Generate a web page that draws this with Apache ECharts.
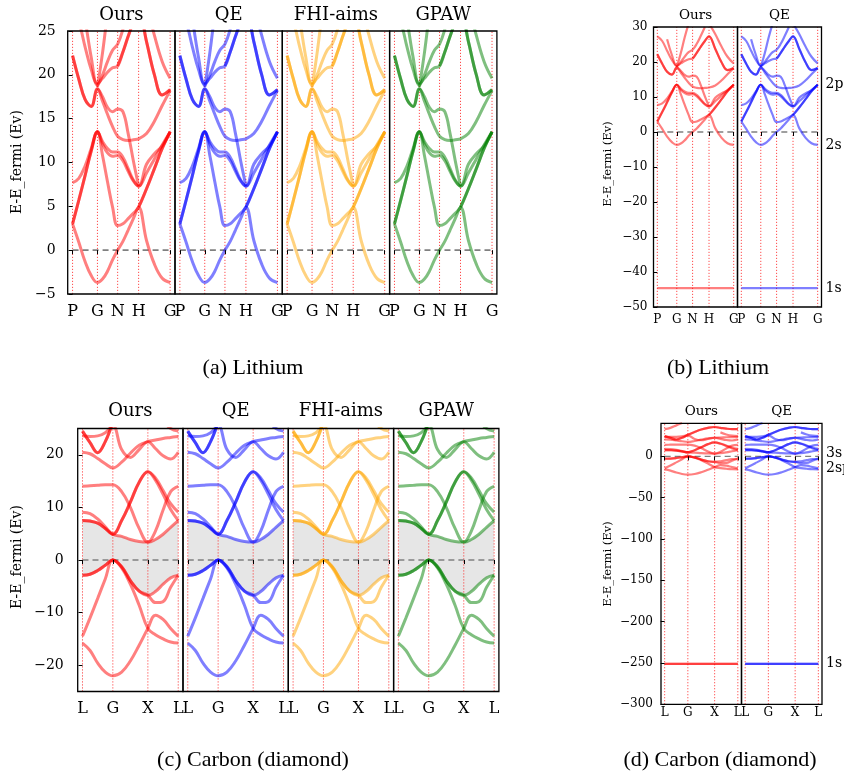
<!DOCTYPE html>
<html><head><meta charset="utf-8">
<script src="https://cdn.jsdelivr.net/npm/echarts@6/dist/echarts.min.js"></script>
<style>html,body{margin:0;padding:0;background:#fff}#c{width:844px;height:774px}</style>
</head><body><div id="c"></div>
<script>
// ---------- Lithium (BCC) path P-G-N-H-G ----------
const liK = [0, 0.064, 0.128, 0.191, 0.255, 0.307, 0.358, 0.41, 0.462, 0.516, 0.57, 0.623, 0.677, 0.758, 0.839, 0.919, 1.0];
const liTickPos = [0, 0.255, 0.462, 0.677, 1.0];
const liTickNames = ['P', 'G', 'N', 'H', 'G'];
const li1 = [3.0, 0.9, -1.3, -2.9, -3.7, -3.3, -2.4, -1.1, 0.0, 1.0, 2.3, 3.6, 4.9, 1.1, -1.6, -3.2, -3.7];
const li2 = [3.0, 5.7, 8.5, 11.3, 13.5, 10.8, 7.8, 4.9, 2.8, 3.0, 3.6, 4.2, 4.9, 7.0, 9.3, 11.6, 13.5];
const li3 = [3.0, 5.7, 8.5, 11.3, 13.5, 12.4, 11.6, 11.2, 11.2, 10.6, 9.3, 8.0, 7.3, 9.8, 11.0, 11.9, 13.5];
const li4 = [7.7, 8.2, 9.6, 11.6, 13.5, 12.1, 11.1, 10.7, 10.8, 10.2, 9.0, 7.9, 7.3, 8.8, 10.4, 12.0, 13.5];
const li5 = [null, null, null, null, null, null, null, null, null, null, null, null, 4.9, 7.0, 9.3, 11.6, 13.5];
const li6 = [22.2, 19.5, 17.2, 16.4, 18.4, 17.0, 15.5, 14.1, 13.0, 12.6, 12.5, 12.6, 12.7, 13.3, 14.7, 16.5, 18.2];
const li7 = [22.2, 19.5, 17.2, 16.4, 18.4, 17.5, 16.3, 15.8, 16.1, 15.8, 13.3, 10.2, 7.3, null, null, null, null];
const li8 = [27.3, 26.0, 23.2, 20.6, 19.0, 19.6, 20.3, 20.8, 21.0, 22.6, 24.4, 26.0, 27.3, 23.8, 20.0, 17.7, 18.3];
const li9 = [null, null, 26.5, 22.0, 18.8, 20.0, 21.5, 22.8, 23.5, 25.2, 27.5, 30.0, null, null, null, null, null];
const li10 = [null, null, null, null, null, null, null, null, 21.0, 22.6, 24.4, 26.0, 27.3, 23.8, 20.0, 17.7, 18.3];
const li11 = [null, null, null, null, null, null, null, null, null, null, null, null, 31.0, 28.0, 24.5, 21.5, 19.6];
const li12 = [null, null, null, null, 18.6, 22.5, 27.0, 31.0, null, null, null, null, null, null, null, null, null];
const liCore = -44.6;

// ---------- Carbon (diamond) path L-G-X-L ----------
const cK = [0, 0.079, 0.159, 0.238, 0.317, 0.409, 0.5, 0.592, 0.683, 0.762, 0.842, 0.921, 1.0];
const cTickPos = [0, 0.317, 0.683, 1.0];
const cTickNames = ['L', 'G', 'X', 'L'];
const c1 = [-15.8, -17.2, -19.6, -21.3, -22.0, -21.3, -19.2, -16.2, -13.0, -10.5, -11.3, -13.0, -14.5];
const c2 = [-14.5, -11.0, -7.3, -3.6, 0.0, -1.5, -4.6, -8.6, -13.0, -14.2, -15.0, -15.6, -15.8];
const c3 = [-2.9, -2.7, -2.0, -1.0, 0.0, -1.3, -3.9, -5.9, -6.7, -6.0, -4.6, -3.4, -2.9];
const c4 = [-2.9, -2.7, -2.0, -1.0, 0.0, -1.3, -3.9, -5.9, -6.7, -8.1, -7.9, -5.2, -2.9];
const c5 = [7.5, 7.4, 7.0, 6.0, 4.9, 7.5, 11.0, 14.8, 16.8, 15.6, 13.2, 10.7, 9.1];
const c6 = [7.5, 7.4, 7.0, 6.0, 4.9, 7.5, 11.0, 14.8, 16.8, 15.2, 12.5, 9.6, 7.5];
const c7 = [9.1, 8.8, 7.8, 6.3, 4.9, 4.5, 3.9, 3.5, 3.4, 3.9, 4.9, 6.2, 7.5];
const c8 = [14.0, 14.1, 14.2, 14.3, 14.3, 13.0, 10.0, 6.0, 3.4, 5.5, 9.5, 13.0, 14.0];
const c9 = [20.5, 20.2, 19.3, 18.3, 17.5, 18.6, 20.3, 21.8, 22.5, 22.8, 23.1, 23.3, 23.5];
const c10 = [23.6, 23.5, 23.6, 24.2, 25.5, 21.0, 19.5, 21.0, 22.5, 21.2, 19.8, 19.2, 20.5];
const c11 = [24.5, 22.3, 20.4, 22.5, 26.0, 29.5, 32.5, 34.5, 35.5, 34.5, 33.5, 33.0, 33.0];
const c12 = [null, null, null, null, null, null, null, null, null, 29.0, 26.5, 25.0, 24.5];
const c13 = [33.0, 34.5, 37.5, 40.5, null, null, null, null, null, null, null, null, null];
const cCore = -251;

const methodNames = ['Ours', 'QE', 'FHI-aims', 'GPAW'];
const methodColors = ['rgba(255,0,0,0.5)', 'rgba(0,0,255,0.5)', 'rgba(255,165,0,0.5)', 'rgba(0,128,0,0.5)'];

const liYTicksA = [-5, 0, 5, 10, 15, 20, 25];
const liYTicksB = [-50, -40, -30, -20, -10, 0, 10, 20, 30];
const cYTicksC = [-20, -10, 0, 10, 20];
const cYTicksD = [-300, -250, -200, -150, -100, -50, 0];

const liLevelLabels = [['2p', 13.5], ['2s', -3.7], ['1s', -44.6]];
const cLevelLabels = [['3s', 3.3], ['2sp', -14], ['1s', -251]];

const liBands = [li1, li2, li3, li4, li5, li6, li7, li8, li9, li10, li11, li12];
const cBands = [c1, c2, c3, c4, c5, c6, c7, c8, c9, c10, c11, c11, c12, c13];
const gapTop = cK.map((_, i) => Math.min(c5[i], c6[i], c7[i], c8[i]));

function zip(k, arr) { return k.map((x, i) => [x, arr[i] == null ? '-' : arr[i]]); }

const panels = [
  {n: 4, left: 67.7, width: 107.3, top: 31, height: 263, ymin: -5, ymax: 25, yticks: liYTicksA,
   k: liK, bands: liBands, tickPos: liTickPos, tickNames: liTickNames, cores: [], gap: false,
   lw: 3, fy: 14, ym: 12, fx: 16, xm: 10, ft: 18, titleY: 15, nameX: 17, nameY: 162, fn: 14, levels: null},
  {n: 2, left: 653.5, width: 84, top: 27, height: 280, ymin: -50, ymax: 30, yticks: liYTicksB,
   k: liK, bands: liBands, tickPos: liTickPos, tickNames: liTickNames, cores: [liCore], gap: false,
   lw: 2.2, fy: 12, ym: 6, fx: 12, xm: 7, ft: 13.5, titleY: 15, nameX: 608, nameY: 164, fn: 11.5, levels: liLevelLabels},
  {n: 4, left: 77.7, width: 105.3, top: 428.5, height: 263, ymin: -25, ymax: 25, yticks: cYTicksC,
   k: cK, bands: cBands, tickPos: cTickPos, tickNames: cTickNames, cores: [], gap: true,
   lw: 3, fy: 14, ym: 14, fx: 16, xm: 9, ft: 18, titleY: 411.5, nameX: 17, nameY: 557, fn: 14, levels: null},
  {n: 2, left: 661, width: 80.5, top: 423.3, height: 281, ymin: -300, ymax: 40, yticks: cYTicksD,
   k: cK, bands: cBands, tickPos: cTickPos, tickNames: cTickNames, cores: [cCore, cCore], gap: false,
   lw: 2.2, fy: 12, ym: 8, fx: 12, xm: 3, ft: 13.5, titleY: 411.5, nameX: 608, nameY: 564, fn: 11.5, levels: cLevelLabels}
];

const grids = [], xAxes = [], yAxes = [], series = [], graphics = [], pending = [];
let g = 0;
const SERIF = 'DejaVu Serif';
panels.forEach(p => {
  for (let j = 0; j < p.n; j++) {
    const left = p.left + j * p.width;
    const color = methodColors[j];
    grids.push({left: left, top: p.top, width: p.width, height: p.height, show: true, z: 6,
      borderColor: '#000', borderWidth: 1.3, backgroundColor: 'transparent', containLabel: false, outerBoundsMode: 'none'});
    xAxes.push({type: 'value', gridIndex: g, min: -0.05, max: 1.05, z: 6,
      axisLine: {show: false}, splitLine: {show: false},
      axisTick: {show: true, customValues: p.tickPos, length: 4, inside: false, lineStyle: {color: '#000', width: 1}},
      axisLabel: {show: true, customValues: p.tickPos, hideOverlap: false,
        formatter: (v) => { const i = p.tickPos.findIndex(t => Math.abs(t - v) < 1e-9); return i >= 0 ? p.tickNames[i] : ''; },
        color: '#000', fontFamily: SERIF, fontSize: p.fx, margin: p.xm}});
    yAxes.push({type: 'value', gridIndex: g, min: p.ymin, max: p.ymax, z: 6,
      axisLine: {show: false}, splitLine: {show: false},
      axisTick: {show: j === 0, customValues: p.yticks, length: 4, lineStyle: {color: '#000', width: 1}},
      axisLabel: {show: j === 0, customValues: p.yticks, hideOverlap: false,
        formatter: (v) => String(v).replace('-', '\u2212'), color: '#000', fontFamily: SERIF, fontSize: p.fy, margin: p.ym}});

    if (p.gap) {
      // gray band-gap area: fill under conduction minimum, then mask below valence maximum
      series.push({type: 'line', xAxisIndex: g, yAxisIndex: g, data: zip(p.k, gapTop), symbol: 'none', smooth: 0.4,
        lineStyle: {width: 0, opacity: 0}, areaStyle: {color: '#e6e6e6', opacity: 1, origin: 'start'},
        silent: true, z: 1, animation: false});
      series.push({type: 'line', xAxisIndex: g, yAxisIndex: g, data: zip(p.k, c3), symbol: 'none', smooth: 0.4,
        lineStyle: {width: 0, opacity: 0}, areaStyle: {color: '#ffffff', opacity: 1, origin: 'start'},
        silent: true, z: 1.5, animation: false});
    }
    // high-symmetry vertical lines
    p.tickPos.forEach(v => {
      series.push({type: 'line', xAxisIndex: g, yAxisIndex: g, data: [[v, p.ymin], [v, p.ymax]], symbol: 'none',
        lineStyle: {color: 'rgba(255,0,0,0.7)', width: 1, type: [1.2, 1.8]}, silent: true, z: 2, animation: false});
    });
    // Fermi level
    series.push({type: 'line', xAxisIndex: g, yAxisIndex: g, data: [[p.tickPos[0], 0], [p.tickPos[p.tickPos.length - 1], 0]],
      symbol: 'none', lineStyle: {color: '#808080', width: p.lw > 2.5 ? 1.6 : 1.3, type: [6, 4]}, silent: true, z: 2, animation: false});
    p.bands.forEach(b => {
      series.push({type: 'line', xAxisIndex: g, yAxisIndex: g, data: zip(p.k, b), symbol: 'none', showSymbol: false,
        smooth: 0.4, lineStyle: {color: color, width: p.lw}, itemStyle: {color: color}, silent: true, z: 3, animation: false,
        emphasis: {disabled: true}});
    });
    p.cores.forEach(cv => {
      series.push({type: 'line', xAxisIndex: g, yAxisIndex: g, data: [[p.tickPos[0], cv], [p.tickPos[p.tickPos.length - 1], cv]],
        symbol: 'none', lineStyle: {color: color, width: p.lw}, silent: true, z: 3, animation: false, emphasis: {disabled: true}});
    });
    graphics.push({type: 'text', x: left + p.width / 2, y: p.titleY, silent: true,
      style: {text: methodNames[j], font: p.ft + 'px "' + SERIF + '"', fill: '#000', align: 'center', verticalAlign: 'middle', textAlign: 'center', textVerticalAlign: 'middle'}});
    if (p.levels && j === p.n - 1) pending.push({g: g, levels: p.levels});
    g++;
  }
  graphics.push({type: 'text', x: p.nameX, y: p.nameY, rotation: Math.PI / 2, silent: true,
    style: {text: 'E-E_fermi (Ev)', font: p.fn + 'px "' + SERIF + '"', fill: '#000', align: 'center', verticalAlign: 'middle', textAlign: 'center', textVerticalAlign: 'middle'}});
});

const captions = [['(a) Lithium', 253, 368], ['(b) Lithium', 718, 368], ['(c) Carbon (diamond)', 253, 760], ['(d) Carbon (diamond)', 720, 760]];
captions.forEach(c => graphics.push({type: 'text', x: c[1], y: c[2], silent: true,
  style: {text: c[0], font: '22px "Liberation Serif"', fill: '#000', align: 'center', verticalAlign: 'middle', textAlign: 'center', textVerticalAlign: 'middle'}}));

const chart = echarts.init(document.getElementById('c'), null, {renderer: 'canvas'});
chart.setOption({animation: false, backgroundColor: '#fff', textStyle: {fontFamily: SERIF},
  grid: grids, xAxis: xAxes, yAxis: yAxes, series: series});

pending.forEach(item => {
  item.levels.forEach(l => {
    const pt = chart.convertToPixel({gridIndex: item.g}, [1.05, l[1]]);
    graphics.push({type: 'text', x: pt[0] + 4, y: pt[1], silent: true,
      style: {text: l[0], font: '14px "' + SERIF + '"', fill: '#000', align: 'left', verticalAlign: 'middle', textAlign: 'left', textVerticalAlign: 'middle'}});
  });
});
chart.setOption({graphic: graphics});
</script></body></html>
